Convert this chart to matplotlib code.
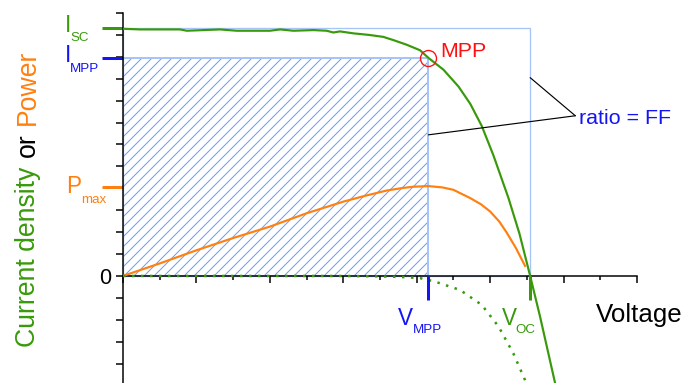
import matplotlib
matplotlib.use('Agg')
import matplotlib.pyplot as plt
from matplotlib.patches import Rectangle

# ---------------- data ----------------
v_light = [0.0, 0.46, 1.55, 1.74, 2.64, 3.10, 4.0, 4.28, 4.64, 5.19, 5.55, 5.73, 5.91,
           6.28, 6.7, 7.09, 7.37, 7.73, 8.09, 8.32, 8.73, 9.14, 9.46, 9.77, 10.09, 10.5,
           10.8, 11.09, 11.36, 11.77, 11.95]
j_light = [11.28, 11.25, 11.25, 11.19, 11.25, 11.19, 11.19, 11.25, 11.19, 11.22, 11.19,
           11.11, 11.16, 11.07, 11.0, 10.91, 10.76, 10.55, 10.30, 9.95, 9.41, 8.64, 7.85,
           6.85, 5.50, 3.55, 1.92, 0.0, -1.86, -4.9, -6.3]

v_dark = [0.0, 6.0, 7.0, 7.6, 8.09, 8.5, 9.18, 9.77, 10.23, 10.63, 10.95, 11.1]
j_dark = [0.0, 0.0, -0.02, -0.05, -0.1, -0.26, -0.64, -1.32, -2.31, -3.53, -4.75, -5.4]

v_power = [0.0, 1.0, 2.0, 3.0, 4.0, 5.0, 6.0, 6.6, 7.19, 7.6, 7.9, 8.32, 8.7, 9.0, 9.46,
           9.75, 10.0, 10.25, 10.45, 10.7, 10.95]
p_power = [0.0, 0.57, 1.17, 1.73, 2.25, 2.86, 3.39, 3.66, 3.9, 4.01, 4.07, 4.1, 4.04, 3.93,
           3.55, 3.27, 2.94, 2.48, 1.98, 1.28, 0.46]

isc = 11.32
impp = 9.95
vmpp = 8.32
voc = 11.09
pmax = 4.08

x_major = list(range(0, 15, 2))
x_minor = list(range(1, 14, 2))
y_ticks = list(range(-6, 13))
y_ticklabels = ['0' if t == 0 else '' for t in y_ticks]

# ---------------- style ----------------
GREEN = '#389a0a'
BLUE = '#1414f5'
ORANGE = '#ff8010'
RED = '#ff1010'
EDGE_BLUE = '#a6c4fa'
HATCH_BLUE = '#6d9cf2'

plt.rcParams['font.family'] = ['Liberation Sans', 'DejaVu Sans']
plt.rcParams['hatch.linewidth'] = 0.6

W, H, DPI = 684, 383, 120
fig = plt.figure(figsize=(W / DPI, H / DPI), dpi=DPI, facecolor='white')
ax = fig.add_axes([123 / W, 1 - 407.4 / H, 514 / W, (407.4 - 13) / H])
ax.set_xlim(0, 14)
ax.set_ylim(-6, 12)
ax.patch.set_alpha(0)

for s in ('top', 'right'):
    ax.spines[s].set_visible(False)
ax.spines['bottom'].set_position(('data', 0))
ax.spines['left'].set_linewidth(0.9)
ax.spines['bottom'].set_linewidth(0.9)

ax.set_xticks(x_major)
ax.set_xticks(x_minor, minor=True)
ax.tick_params(axis='x', which='major', length=4.2, width=0.9, direction='out', labelbottom=False)
ax.tick_params(axis='x', which='minor', length=2.1, width=0.9, direction='out')
ax.set_yticks(y_ticks)
ax.set_yticklabels(y_ticklabels)
ax.tick_params(axis='y', which='major', length=4.2, width=0.9, direction='out', labelsize=13, pad=3)

# rectangles
ax.add_patch(Rectangle((0, 0), voc, isc, fill=False, edgecolor=EDGE_BLUE, lw=0.8, zorder=1))
ax.add_patch(Rectangle((0, 0), vmpp, impp, fill=False, hatch='////', edgecolor=HATCH_BLUE, lw=0, zorder=1))
ax.add_patch(Rectangle((0, 0), vmpp, impp, fill=False, edgecolor=EDGE_BLUE, lw=1.2, zorder=1.1))

# curves
ax.plot(v_light, j_light, color=GREEN, lw=1.3, zorder=3)
ax.plot(v_dark, j_dark, color=GREEN, lw=1.5, ls=(0, (1, 2.6)), zorder=4)
ax.plot(v_power, p_power, color=ORANGE, lw=1.3, zorder=3)

# MPP marker
ax.plot([vmpp], [impp], 'o', ms=9.6, mfc='none', mec=RED, mew=0.8, zorder=5)

# colored value markers on axes
ax.plot([-0.57, 0], [isc, isc], color=GREEN, lw=1.8, clip_on=False, solid_capstyle='butt')
ax.plot([-0.57, 0], [impp, impp], color=BLUE, lw=1.8, clip_on=False, solid_capstyle='butt')
ax.plot([-0.57, 0], [pmax, pmax], color=ORANGE, lw=1.8, clip_on=False, solid_capstyle='butt')
ax.plot([vmpp, vmpp], [0, -1.1], color=BLUE, lw=1.8, clip_on=False, solid_capstyle='butt', zorder=6)
ax.plot([voc, voc], [0, -1.1], color=GREEN, lw=1.8, clip_on=False, solid_capstyle='butt', zorder=6)

# ratio = FF connector lines
ax.annotate('', xy=(voc, 9.05), xytext=(12.32, 7.31),
            arrowprops=dict(arrowstyle='-', color='black', lw=0.7, shrinkA=0, shrinkB=0))
ax.annotate('', xy=(vmpp, 6.44), xytext=(12.32, 7.31),
            arrowprops=dict(arrowstyle='-', color='black', lw=0.7, shrinkA=0, shrinkB=0))


def ftext(x, y, s, **kw):
    fig.text(x / W, 1 - y / H, s, **kw)


ftext(579, 124, 'ratio = FF', color=BLUE, fontsize=12.8, ha='left', va='baseline')
ftext(440, 56.7, 'MPP', color=RED, fontsize=12.8, ha='left', va='baseline')

MAIN = 13.5
SUB = 8
ftext(65, 32.5, 'I', color=GREEN, fontsize=MAIN, ha='left', va='baseline')
ftext(70.3, 40.7, 'SC', color=GREEN, fontsize=SUB, ha='left', va='baseline')
ftext(65, 62, 'I', color=BLUE, fontsize=MAIN, ha='left', va='baseline')
ftext(70.3, 72, 'MPP', color=BLUE, fontsize=SUB, ha='left', va='baseline')
ftext(66.5, 193, 'P', color=ORANGE, fontsize=MAIN, ha='left', va='baseline')
ftext(81.5, 203, 'max', color=ORANGE, fontsize=SUB, ha='left', va='baseline')
ftext(398, 325, 'V', color=BLUE, fontsize=MAIN, ha='left', va='baseline')
ftext(412.5, 333, 'MPP', color=BLUE, fontsize=SUB, ha='left', va='baseline')
ftext(502, 325, 'V', color=GREEN, fontsize=MAIN, ha='left', va='baseline')
ftext(515.5, 333, 'OC', color=GREEN, fontsize=SUB, ha='left', va='baseline')
ftext(596, 321.7, 'Voltage', color='black', fontsize=15.5, ha='left', va='baseline')

# multi-colored y label
YL = 16
ftext(35, 347, 'Current density', color=GREEN, fontsize=YL, rotation=90,
      rotation_mode='anchor', ha='left', va='baseline')
ftext(35, 157, 'or', color='black', fontsize=YL, rotation=90,
      rotation_mode='anchor', ha='left', va='baseline')
ftext(35, 125, 'Power', color=ORANGE, fontsize=YL, rotation=90,
      rotation_mode='anchor', ha='left', va='baseline')

fig.savefig('out.png', dpi=DPI, facecolor='white')
